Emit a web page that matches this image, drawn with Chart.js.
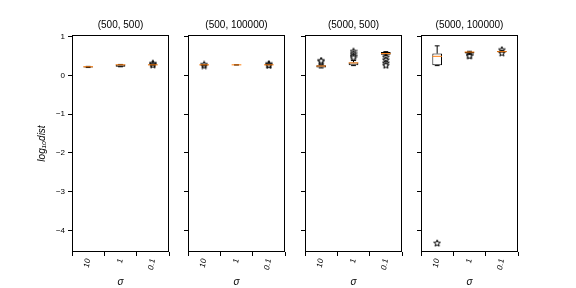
<!DOCTYPE html>
<html>
<head>
<meta charset="utf-8">
<script src="https://cdn.jsdelivr.net/npm/chart.js"></script>
<style>
  body { margin: 0; background: #fff; }
  #wrap { position: relative; width: 576px; height: 288px; overflow: hidden; }
  #wrap canvas { position: absolute; top: 0; }
</style>
</head>
<body>
<div id="wrap"></div>
<script>
// categories and panel titles
var sigmas = ['10', '1', '0.1'];
var titles = ['(500, 500)', '(500, 100000)', '(5000, 500)', '(5000, 100000)'];
var yTicks = [-4, -3, -2, -1, 0, 1];

// box stats per panel, one value per sigma
var q1     = [[0.20, 0.22, 0.26], [0.26, 0.27, 0.27], [0.20, 0.26, 0.53], [0.26, 0.56, 0.60]];
var median = [[0.22, 0.27, 0.27], [0.27, 0.27, 0.27], [0.24, 0.32, 0.56], [0.49, 0.60, 0.61]];
var q3     = [[0.23, 0.28, 0.28], [0.27, 0.27, 0.28], [0.26, 0.33, 0.60], [0.56, 0.61, 0.63]];
var whiskLo = [[0.20, 0.22, 0.26], [0.26, 0.27, 0.27], [0.19, 0.25, 0.52], [0.25, 0.55, 0.60]];
var whiskHi = [[0.23, 0.28, 0.28], [0.27, 0.27, 0.28], [0.27, 0.38, 0.61], [0.76, 0.62, 0.63]];

// outliers per panel: [sigma index, value]
var fliers = [
  [[2, 0.29], [2, 0.31], [2, 0.27]],
  [[0, 0.25], [0, 0.28], [2, 0.30], [2, 0.26], [2, 0.27]],
  [[0, 0.36], [0, 0.38], [1, 0.62], [1, 0.56], [1, 0.50], [1, 0.46],
   [2, 0.47], [2, 0.40], [2, 0.32], [2, 0.26]],
  [[0, -4.33], [1, 0.53], [1, 0.50], [2, 0.66], [2, 0.58]]
];

var panelLeft = [72, 188, 305, 421];
var panelW = 97;

// open star marker like matplotlib '*'
var star = document.createElement('canvas');
star.width = 8; star.height = 8;
(function() {
  var c = star.getContext('2d');
  c.beginPath();
  for (var i = 0; i < 10; i++) {
    var r = i % 2 ? 1.5 : 3.5;
    var a = -Math.PI / 2 + i * Math.PI / 5;
    var px = 4 + r * Math.cos(a), py = 4.3 + r * Math.sin(a);
    if (i) c.lineTo(px, py); else c.moveTo(px, py);
  }
  c.closePath();
  c.fillStyle = '#fff';
  c.fill();
  c.strokeStyle = '#000';
  c.lineWidth = 1;
  c.stroke();
})();

var boxPlugin = {
  id: 'boxParts',
  afterDatasetsDraw: function(chart, args, opts) {
    var p = opts.panel;
    var ctx = chart.ctx;
    var ys = chart.scales.y;
    var meta = chart.getDatasetMeta(0);
    ctx.save();
    meta.data.forEach(function(el, j) {
      var x = el.x, w = el.width;
      ctx.strokeStyle = '#000';
      ctx.lineWidth = 1;
      ctx.beginPath();
      var yq3 = ys.getPixelForValue(q3[p][j]);
      var yhi = ys.getPixelForValue(whiskHi[p][j]);
      var yq1 = ys.getPixelForValue(q1[p][j]);
      var ylo = ys.getPixelForValue(whiskLo[p][j]);
      ctx.moveTo(x, yq3); ctx.lineTo(x, yhi);
      ctx.moveTo(x - w / 4, yhi); ctx.lineTo(x + w / 4, yhi);
      ctx.moveTo(x, yq1); ctx.lineTo(x, ylo);
      ctx.moveTo(x - w / 4, ylo); ctx.lineTo(x + w / 4, ylo);
      ctx.stroke();
      ctx.strokeStyle = '#ff7f0e';
      ctx.beginPath();
      var ym = ys.getPixelForValue(median[p][j]);
      ctx.moveTo(x - w / 2, ym); ctx.lineTo(x + w / 2, ym);
      ctx.stroke();
    });
    var a = chart.chartArea;
    ctx.strokeStyle = '#000';
    ctx.lineWidth = 1;
    ctx.strokeRect(Math.round(a.left) + 0.5, Math.round(a.top) + 0.5,
      Math.round(a.right - a.left) - 1, Math.round(a.bottom - a.top) - 1);
    ctx.restore();
  }
};

var wrap = document.getElementById('wrap');

for (var p = 0; p < 4; p++) {
  var first = p === 0;
  var yW = first ? 42 : 40;
  var cv = document.createElement('canvas');
  var cLeft = panelLeft[p] - yW;
  cv.width = yW + panelW + 6;
  cv.height = 288;
  cv.style.left = cLeft + 'px';
  wrap.appendChild(cv);

  var boxes = sigmas.map(function(s, j) { return [q1[p][j], q3[p][j]]; });
  var pts = fliers[p].map(function(f) { return { x: sigmas[f[0]], y: f[1] }; });

  new Chart(cv, {
    type: 'bar',
    data: {
      labels: sigmas,
      datasets: [
        {
          data: boxes,
          backgroundColor: '#fff',
          borderColor: '#000',
          borderWidth: 1,
          borderSkipped: false,
          barPercentage: 0.3,
          categoryPercentage: 1,
          order: 2
        },
        {
          type: 'line',
          data: pts,
          showLine: false,
          pointStyle: star,
          pointRadius: 4,
          order: 1
        }
      ]
    },
    options: {
      responsive: false,
      animation: false,
      devicePixelRatio: 1,
      layout: { padding: { left: 0, right: 6, top: 0, bottom: 0 } },
      plugins: {
        legend: { display: false },
        tooltip: { enabled: false },
        title: {
          display: true,
          fullSize: false,
          align: 'center',
          text: titles[p],
          color: '#000',
          font: { family: 'Liberation Sans', size: 10, weight: 'normal' },
          padding: { top: 19, bottom: 4 }
        },
        boxParts: { panel: p }
      },
      scales: {
        x: {
          type: 'category',
          offset: true,
          border: { display: false },
          grid: { display: true, drawOnChartArea: false, drawTicks: true, tickLength: 4, color: '#000' },
          ticks: {
            color: '#000',
            minRotation: 80,
            maxRotation: 80,
            padding: 2,
            font: { family: 'Liberation Sans', size: 8, style: 'italic' }
          },
          title: {
            display: true,
            text: 'σ',
            color: '#000',
            padding: { top: 0, bottom: 0 },
            font: { family: 'Liberation Sans', size: 10, style: 'italic' }
          },
          afterFit: function(s) { s.height = 36; }
        },
        y: {
          min: -4.56,
          max: 1.04,
          border: { display: false },
          grid: { display: true, drawOnChartArea: false, drawTicks: true, tickLength: 4, color: '#000' },
          afterBuildTicks: function(s) {
            s.ticks = yTicks.map(function(v) { return { value: v }; });
          },
          ticks: {
            color: '#000',
            padding: 3,
            font: { family: 'Liberation Sans', size: 8 },
            callback: first ? function(v) { return String(v).replace('-', '\u2212'); } : function() { return ''; }
          },
          title: {
            display: first,
            text: 'log\u2081\u2080dist',
            color: '#000',
            padding: { top: 6, bottom: 0 },
            font: { family: 'Liberation Sans', size: 10, style: 'italic' }
          },
          afterFit: (function(w) { return function(s) { s.width = w; }; })(yW)
        }
      }
    },
    plugins: [boxPlugin]
  });
}
</script>
</body>
</html>
